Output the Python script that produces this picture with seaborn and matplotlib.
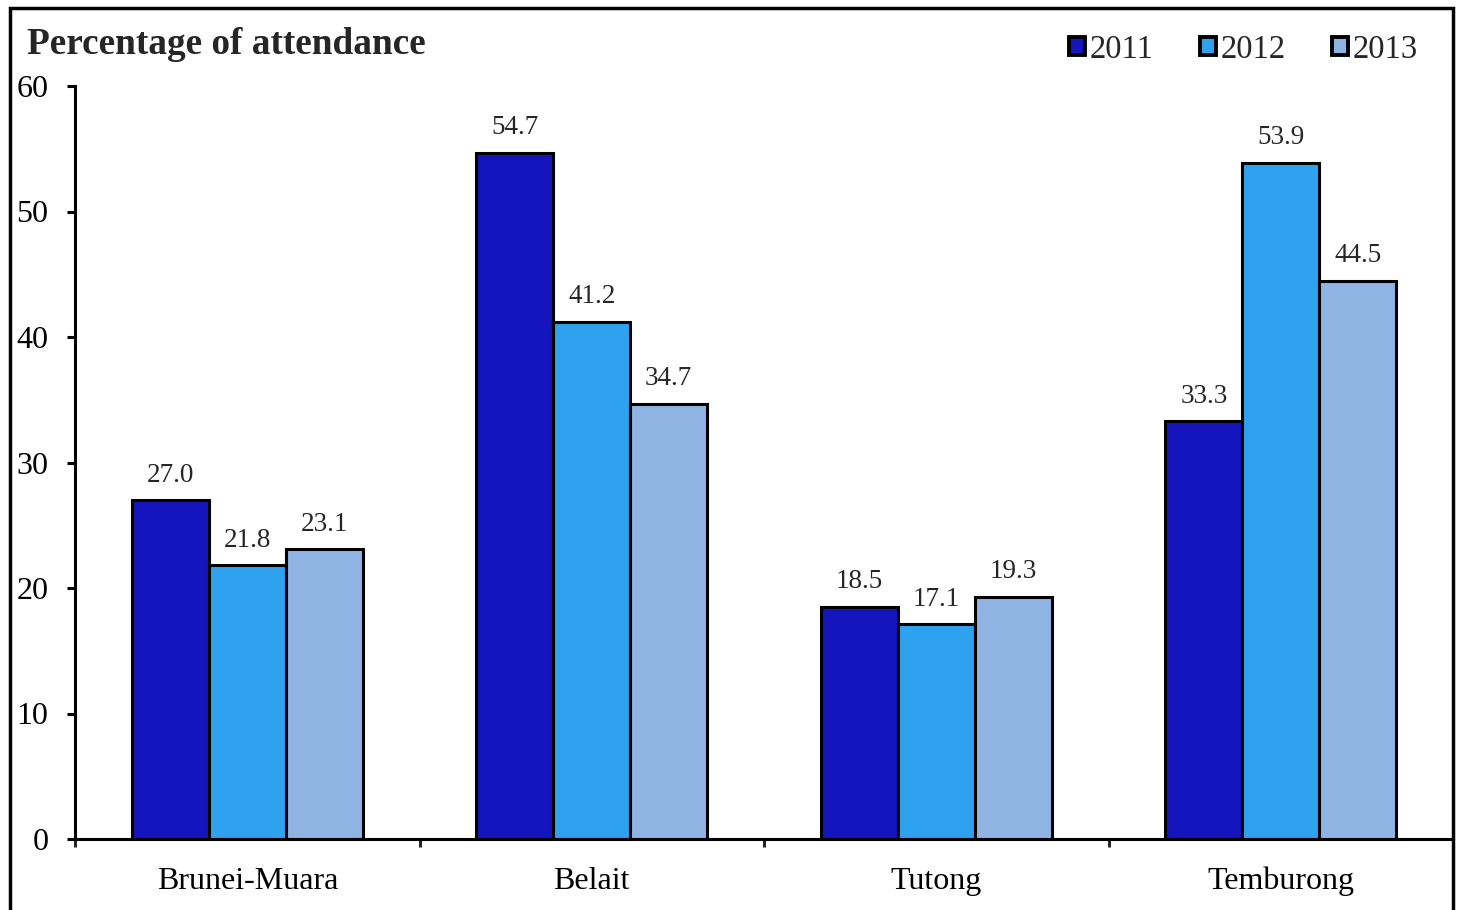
import pandas as pd
import numpy as np
import matplotlib
matplotlib.use('Agg')
import matplotlib.pyplot as plt
import seaborn as sns

# Data
districts = ['Brunei-Muara', 'Belait', 'Tutong', 'Temburong']
years = ['2011', '2012', '2013']
vals_2011 = [27.0, 54.7, 18.5, 33.3]
vals_2012 = [21.8, 41.2, 17.1, 53.9]
vals_2013 = [23.1, 34.7, 19.3, 44.5]
colors = ['#1515BE', '#2EA2EE', '#8FB4E3']

df = pd.DataFrame({
    'District': districts * 3,
    'Year': [y for y in years for _ in districts],
    'Value': vals_2011 + vals_2012 + vals_2013,
})

sns.set_style('white')
plt.rcParams['font.family'] = ['Liberation Serif', 'DejaVu Serif']

fig = plt.figure(figsize=(14.6, 9.1), dpi=100)
ax = fig.add_axes([75 / 1460, 1 - 839 / 910, (1453 - 75) / 1460, (839 - 86) / 910])

sns.barplot(data=df, x='District', y='Value', hue='Year', order=districts,
            hue_order=years, palette=colors, width=0.67, edgecolor='black',
            linewidth=2.2, saturation=1, ax=ax, errorbar=None)

# value labels
for cont in ax.containers:
    ax.bar_label(cont, fmt='%.1f', padding=9, fontsize=19.5)

ax.set_ylim(0, 60)
ax.set_xlim(-0.5, 3.5)
ax.set_yticks(range(0, 61, 10))
ax.set_xlabel('')
ax.set_ylabel('')

for s in ['top', 'right']:
    ax.spines[s].set_visible(False)
for s in ['left', 'bottom']:
    ax.spines[s].set_color('black')
    ax.spines[s].set_linewidth(2.2)

ax.tick_params(axis='y', which='major', direction='out', length=6, width=2.2,
               left=True, labelsize=23, pad=13, colors='black')
ax.tick_params(axis='x', which='major', length=0, labelsize=23, pad=20, colors='black')
ax.set_xticks(np.arange(-0.5, 3.0, 1.0), minor=True)
ax.tick_params(axis='x', which='minor', direction='out', length=6, width=2.2, bottom=True)

leg = ax.legend(ncol=3, loc='upper right', bbox_to_anchor=(1431 / 1460, 1 - 21 / 910),
                bbox_transform=fig.transFigure, frameon=False, fontsize=23.5,
                handlelength=0.5, handleheight=0.5, handletextpad=0.15,
                columnspacing=1.4, borderaxespad=0)
for h in leg.legend_handles:
    h.set_linewidth(2.8)

fig.text(27 / 1460, 1 - 44 / 910, 'Percentage of attendance', fontsize=26.8,
         fontweight='bold', va='center', ha='left')

# outer frame
fig.add_artist(plt.Rectangle((10 / 1460, -0.05), (1453 - 10) / 1460, 1.05 - 8 / 910,
                             transform=fig.transFigure, fill=False,
                             edgecolor='black', linewidth=2.5))

fig.savefig('out.png', dpi=100)
